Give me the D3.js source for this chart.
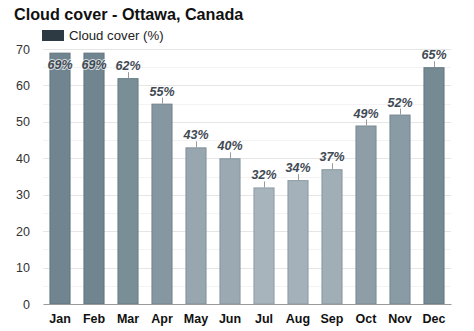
<!DOCTYPE html>
<html>
<head>
<meta charset="utf-8">
<script src="https://cdn.jsdelivr.net/npm/d3@7"></script>
<style>
  html, body { margin: 0; padding: 0; background: #ffffff; }
  svg { display: block; font-family: "Liberation Sans", Arial, sans-serif; }
</style>
</head>
<body>
<svg id="chart" width="474" height="331"></svg>
<script>
// Monthly average cloud cover, Ottawa
const months = ["Jan", "Feb", "Mar", "Apr", "May", "Jun", "Jul", "Aug", "Sep", "Oct", "Nov", "Dec"];
const cloudCover = [69, 69, 62, 55, 43, 40, 32, 34, 37, 49, 52, 65];
const yTicks = [0, 10, 20, 30, 40, 50, 60, 70];
const titleText = "Cloud cover - Ottawa, Canada";
const legendText = "Cloud cover (%)";

const svg = d3.select("#chart");
const margin = { top: 49, right: 23, bottom: 27, left: 43 };
const width = 474 - margin.left - margin.right;
const height = 331 - margin.top - margin.bottom;

const x = d3.scaleBand().domain(months).range([margin.left, margin.left + width])
  .paddingInner(0.38).paddingOuter(0.19);
const y = d3.scaleLinear().domain([0, 70]).range([margin.top + height, margin.top]);

// Bar fill: darker for cloudier months
const fill = d3.scaleLinear().domain([32, 69]).range(["#a7b4bc", "#70858f"]);
const stroke = d3.scaleLinear().domain([32, 69]).range(["#8e9ca5", "#5f747e"]);

// Title and legend
svg.append("text").attr("x", 14).attr("y", 20)
  .attr("font-size", 16.2).attr("font-weight", "bold").attr("fill", "#111")
  .text(titleText);
svg.append("rect").attr("x", 42).attr("y", 30).attr("width", 22).attr("height", 11)
  .attr("fill", "#2d3a44");
svg.append("text").attr("x", 69).attr("y", 40)
  .attr("font-size", 13.2).attr("fill", "#222").text(legendText);

// Gridlines
svg.append("g").selectAll("line").data(d3.range(5, 71, 5)).join("line")
  .attr("x1", margin.left).attr("x2", margin.left + width)
  .attr("y1", d => Math.round(y(d)) + 0.5).attr("y2", d => Math.round(y(d)) + 0.5)
  .attr("stroke", d => d % 10 === 0 ? "#e6e6e6" : "#f3f3f3").attr("stroke-width", 1);

// Y axis
const yAxis = svg.append("g").attr("transform", `translate(${margin.left},0)`)
  .call(d3.axisLeft(y).tickValues(yTicks).tickSize(0).tickPadding(13));
yAxis.select(".domain").remove();
yAxis.selectAll("text").attr("font-size", 12.5).attr("fill", "#333")
  .attr("font-family", "'Liberation Sans', Arial, sans-serif");

// Bars
svg.append("g").selectAll("rect").data(months).join("rect")
  .attr("x", d => x(d) + 0.5)
  .attr("y", (d, i) => y(cloudCover[i]) + 0.5)
  .attr("width", x.bandwidth() - 1)
  .attr("height", (d, i) => y(0) - y(cloudCover[i]) - 0.5)
  .attr("fill", (d, i) => fill(cloudCover[i]))
  .attr("stroke", (d, i) => stroke(cloudCover[i]))
  .attr("stroke-width", 1);

// X axis
const xAxis = svg.append("g").attr("transform", `translate(0,${y(0)})`)
  .call(d3.axisBottom(x).tickSize(0).tickPadding(10));
xAxis.select(".domain").attr("stroke", "#999").attr("stroke-width", 1.2);
xAxis.selectAll("text").attr("font-size", 12.5).attr("font-weight", "bold").attr("fill", "#111")
  .attr("font-family", "'Liberation Sans', Arial, sans-serif");

// Value labels: above the bar with a leader tick, or inside when there is no room
const labels = svg.append("g");
months.forEach((m, i) => {
  const v = cloudCover[i];
  const cx = x(m) + x.bandwidth() / 2;
  const top = y(v);
  const inside = top - margin.top < 10;
  if (!inside) {
    labels.append("line").attr("x1", cx + 0.5).attr("x2", cx + 0.5)
      .attr("y1", top - 6).attr("y2", top).attr("stroke", "#999").attr("stroke-width", 1);
  }
  labels.append("text")
    .attr("x", cx).attr("y", inside ? top + 16 : top - 8)
    .attr("text-anchor", "middle")
    .attr("font-size", 12.5).attr("font-weight", "bold").attr("font-style", "italic")
    .attr("fill", "#3f4a54")
    .attr("stroke", inside ? "#ffffff" : "none").attr("stroke-width", inside ? 2 : 0)
    .attr("stroke-opacity", 0.7).attr("paint-order", "stroke")
    .text(v + "%");
});
</script>
</body>
</html>
